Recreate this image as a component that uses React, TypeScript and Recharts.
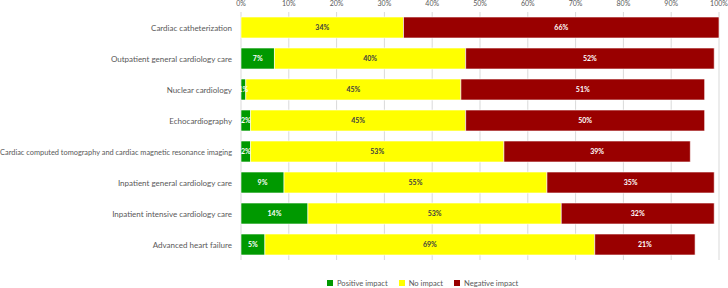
import React from "react"
import { BarChart, Bar, XAxis, YAxis, CartesianGrid, Legend, LabelList } from "recharts"

const categories = [
  "Cardiac catheterization",
  "Outpatient general cardiology care",
  "Nuclear cardiology",
  "Echocardiography",
  "Cardiac computed tomography and cardiac magnetic resonance imaging",
  "Inpatient general cardiology care",
  "Inpatient intensive cardiology care",
  "Advanced heart failure",
]
const positive = [0, 7, 1, 2, 2, 9, 14, 5]
const noImpact = [34, 40, 45, 45, 53, 55, 53, 69]
const negative = [66, 52, 51, 50, 39, 35, 32, 21]
const xTicks = [0, 10, 20, 30, 40, 50, 60, 70, 80, 90, 100]

const series = [
  { key: "positive", name: "Positive impact", color: "#009900", label: "#ffffff" },
  { key: "noImpact", name: "No impact", color: "#ffff00", label: "#404040" },
  { key: "negative", name: "Negative impact", color: "#990000", label: "#ffffff" },
]

const data = categories.map((name, i) => ({
  name,
  positive: positive[i],
  noImpact: noImpact[i],
  negative: negative[i],
}))

const FONT = "Lato, 'Open Sans', sans-serif"
const GRAY = "#595959"

const makeLabel = (color: string) => (props: any) => {
  const { x, y, width, height, value } = props
  const fill = value === 0 ? "#cfcfcf" : color
  return (
    <text
      x={x + width / 2}
      y={y + height / 2}
      dy={2.5}
      textAnchor="middle"
      fontSize={7}
      fontWeight="bold"
      fontFamily={FONT}
      fill={fill}
    >
      {`${value}%`}
    </text>
  )
}

// the long label is squeezed a little so it fits left of the plot like the original
const CategoryTick = (props: any) => {
  const { x, y, payload } = props
  const size = payload.value.length > 50 ? 7.4 : 8
  return (
    <text x={x} y={y} dy={3} textAnchor="end" fontSize={size} fill={GRAY} fontFamily={FONT}>
      {payload.value}
    </text>
  )
}

const LegendContent = () => (
  <div style={{ display: "flex", gap: 11, fontSize: 7.6, fontFamily: FONT, color: GRAY, lineHeight: "10px" }}>
    {series.map((s) => (
      <div key={s.key} style={{ display: "flex", alignItems: "center" }}>
        <span style={{ width: 6, height: 6, background: s.color, marginRight: 4, display: "inline-block" }} />
        {s.name}
      </div>
    ))}
  </div>
)

export default function App() {
  return (
    <div style={{ position: "absolute", left: 0, top: 0, background: "#fff" }}>
      <BarChart
        width={728}
        height={288}
        data={data}
        layout="vertical"
        margin={{ top: 0, right: 9, bottom: 18, left: 0 }}
        barSize={21}
      >
        <CartesianGrid horizontal={false} stroke="#d9d9d9" />
        <XAxis
          type="number"
          orientation="top"
          domain={[0, 100]}
          ticks={xTicks}
          tickFormatter={(v) => `${v}%`}
          axisLine={false}
          tickLine={false}
          tickSize={0}
          tickMargin={6}
          height={12}
          interval={0}
          tick={{ fontSize: 7, fill: GRAY, fontFamily: FONT }}
        />
        <YAxis
          type="category"
          dataKey="name"
          width={241}
          axisLine={false}
          tickLine={false}
          tickSize={0}
          tickMargin={9}
          interval={0}
          tick={<CategoryTick />}
        />
        <Legend
          verticalAlign="bottom"
          align="left"
          content={<LegendContent />}
          wrapperStyle={{ left: 327, bottom: 0, width: "auto" }}
        />
        {series.map((s) => (
          <Bar
            key={s.key}
            dataKey={s.key}
            name={s.name}
            stackId="a"
            fill={s.color}
            stroke="#ffffff"
            strokeWidth={0.6}
            isAnimationActive={false}
          >
            <LabelList dataKey={s.key} content={makeLabel(s.label)} />
          </Bar>
        ))}
      </BarChart>
    </div>
  )
}
